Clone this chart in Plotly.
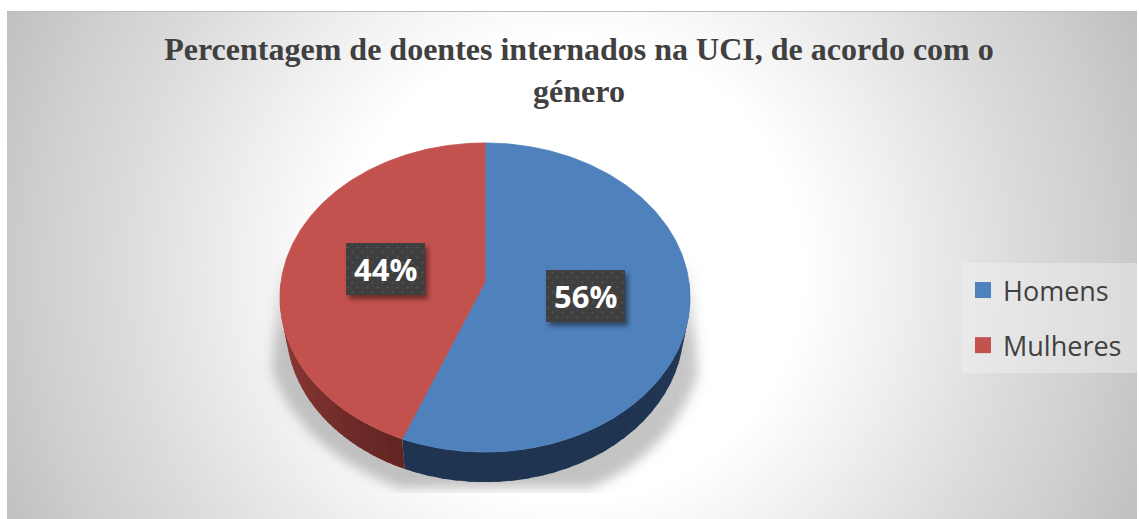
import base64
import numpy as np
import plotly.graph_objects as go

categories = ["Homens", "Mulheres"]
values = [56, 44]
labels = ["56%", "44%"]
top_colors = ["#4f81bd", "#c3514e"]
wall_from = ["#1f3450", "#622523"]
wall_to = ["#28426a", "#9a403d"]

W, H = 1139, 519
CX, CY = 485, 282            # apex of the tilted disc
AX, BY, K = 204, 153, 0.1003 # perspective of the disc
DEPTH, WALL_SCALE = 30, 0.97


def disc(t, scale=1.0, drop=0.0):
    u, v = np.sin(t), -np.cos(t)
    d = 1 - K * v
    return CX + scale * AX * u / d, CY + BY * v / d + drop


def rgb(c):
    return np.array([int(c[i:i + 2], 16) for i in (1, 3, 5)], float)


def mix(a, b, f):
    r = rgb(a) * (1 - f) + rgb(b) * f
    return f"rgb({r[0]:.0f},{r[1]:.0f},{r[2]:.0f})"


fractions = np.array(values, float) / sum(values)
edges = np.concatenate([[0], np.cumsum(fractions)]) * 2 * np.pi

fig = go.Figure()

# side wall, built slice by slice from the values
for i, cat in enumerate(categories):
    lo, hi = edges[i], edges[i + 1]
    vis_lo, vis_hi = max(lo, np.pi / 2), min(hi, 3 * np.pi / 2)
    steps = np.linspace(vis_lo, vis_hi, 31)
    for j in range(len(steps) - 1):
        end = min(steps[j + 1] + 0.03, vis_hi)
        t = np.linspace(steps[j], end, 5)
        x1, y1 = disc(t)
        x2, y2 = disc(t[::-1], WALL_SCALE, DEPTH)
        pos = (steps[j] - vis_lo) / (vis_hi - vis_lo)
        f = (1 - pos) ** 6 if i == 0 else pos
        fig.add_trace(go.Scatter(
            x=np.concatenate([x1, x2]), y=np.concatenate([y1, y2]),
            mode="none", fill="toself", fillcolor=mix(wall_from[i], wall_to[i], float(f)),
            showlegend=False, hoverinfo="skip"))

# top face
for i, cat in enumerate(categories):
    t = np.linspace(edges[i], edges[i + 1], 240)
    x, y = disc(t)
    fig.add_trace(go.Scatter(
        x=np.concatenate([[CX], x, [CX]]), y=np.concatenate([[CY], y, [CY]]),
        mode="lines", line=dict(color=top_colors[i], width=0.8),
        fill="toself", fillcolor=top_colors[i],
        name=cat, showlegend=False, hoverinfo="name"))

# legend entries
for i, cat in enumerate(categories):
    fig.add_trace(go.Scatter(
        x=[None], y=[None], mode="markers", name=cat, legendgroup=cat,
        marker=dict(symbol="square", size=16, color=top_colors[i])))


def uri(svg):
    return "data:image/svg+xml;base64," + base64.b64encode(svg.encode()).decode()


background = f"""<svg xmlns="http://www.w3.org/2000/svg" width="{W}" height="{H}" viewBox="0 0 {W} {H}">
<defs>
<radialGradient id="g" gradientUnits="userSpaceOnUse" cx="570" cy="270" r="625">
<stop offset="0.37" stop-color="#ffffff"/><stop offset="0.54" stop-color="#eeeeee"/>
<stop offset="0.70" stop-color="#dddddd"/><stop offset="0.85" stop-color="#cfcfcf"/>
<stop offset="1" stop-color="#bfbfbf"/>
</radialGradient>
<linearGradient id="s" gradientUnits="userSpaceOnUse" x1="0" y1="255" x2="0" y2="495">
<stop offset="0" stop-color="#909090" stop-opacity="0"/>
<stop offset="0.35" stop-color="#909090" stop-opacity="0.5"/>
<stop offset="1" stop-color="#909090" stop-opacity="0.55"/>
</linearGradient>
<filter id="b" x="-10%" y="-10%" width="120%" height="120%"><feGaussianBlur stdDeviation="6"/></filter>
<clipPath id="c"><rect x="0" y="0" width="{W}" height="493"/></clipPath>
</defs>
<rect width="{W}" height="{H}" fill="#ffffff"/>
<rect x="7" y="11" width="1130" height="508" fill="url(#g)"/>
<rect x="7" y="11" width="1130" height="1" fill="#bdbdbd"/>
<rect x="962" y="263" width="175" height="110" fill="#f2f2f2" fill-opacity="0.45"/>
<g clip-path="url(#c)"><path d="M280 260 L272 370 Q300 450 400 488 L590 488 Q670 455 698 375 L690 260 Z" fill="url(#s)" filter="url(#b)"/></g>
</svg>"""

boxes = [(546, 270), (346, 243)]
box_w, box_h = 79, 52
box_svg = "".join(
    f'<rect x="{x+3}" y="{y+4}" width="{box_w}" height="{box_h}" fill="#000" fill-opacity="0.45" filter="url(#sh)"/>'
    f'<rect x="{x}" y="{y}" width="{box_w}" height="{box_h}" fill="url(#p)"/>' for x, y in boxes)
overlay = f"""<svg xmlns="http://www.w3.org/2000/svg" width="{W}" height="{H}" viewBox="0 0 {W} {H}">
<defs>
<filter id="sh" x="-20%" y="-20%" width="140%" height="140%"><feGaussianBlur stdDeviation="2.5"/></filter>
<pattern id="p" patternUnits="userSpaceOnUse" width="10" height="10">
<rect width="10" height="10" fill="#3f3f3f"/>
<circle cx="2.5" cy="2.5" r="1" fill="#565656"/><circle cx="7.5" cy="7.5" r="1" fill="#565656"/>
</pattern>
</defs>{box_svg}</svg>"""

annotations = [dict(
    x=x + box_w / 2, y=y + box_h / 2, text=f"<b>{lab}</b>", showarrow=False,
    font=dict(family="Open Sans", size=31, color="#ffffff"),
    xanchor="center", yanchor="middle") for (x, y), lab in zip(boxes, labels)]

fig.update_layout(
    width=W, height=H, margin=dict(l=0, r=0, t=0, b=0),
    paper_bgcolor="#ffffff", plot_bgcolor="rgba(0,0,0,0)",
    xaxis=dict(range=[0, W], visible=False, fixedrange=True),
    yaxis=dict(range=[H, 0], visible=False, fixedrange=True),
    title=dict(
        text="<b>Percentagem de doentes internados na UCI, de acordo com o<br>género</b>",
        x=579 / W, xanchor="center", y=1 - 60 / H, yanchor="top",
        font=dict(family="Liberation Serif", size=32, color="#404040")),
    legend=dict(
        x=963 / W, y=1 - 266 / H, xanchor="left", yanchor="top",
        bgcolor="rgba(0,0,0,0)", font=dict(family="Open Sans", size=27, color="#404040"),
        tracegroupgap=17, itemsizing="trace"),
    images=[
        dict(source=uri(background), xref="paper", yref="paper", x=0, y=1, sizex=1, sizey=1,
             xanchor="left", yanchor="top", sizing="stretch", layer="below"),
        dict(source=uri(overlay), xref="paper", yref="paper", x=0, y=1, sizex=1, sizey=1,
             xanchor="left", yanchor="top", sizing="stretch", layer="above"),
    ],
    annotations=annotations,
)

fig.write_html("out.html", config={"displayModeBar": False},
               post_script="document.body.style.margin='0';")
